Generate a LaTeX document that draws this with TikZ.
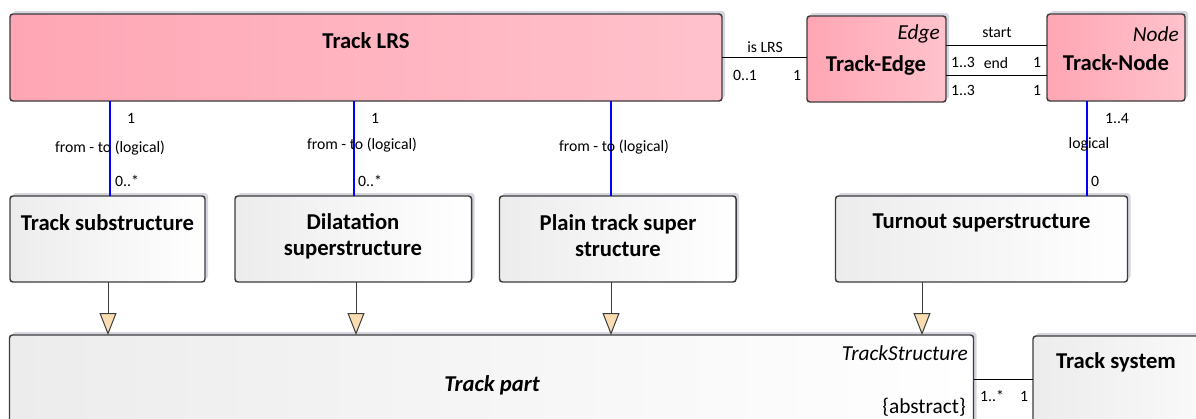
\documentclass[tikz,border=0pt]{standalone}
\usepackage{fontspec}
\setmainfont{Carlito}
\usetikzlibrary{arrows.meta,shadows,positioning}

\definecolor{lrsleft}{RGB}{255,166,180}
\definecolor{lrsright}{RGB}{255,194,204}
\definecolor{boxleft}{RGB}{236,236,236}
\definecolor{boxline}{RGB}{60,60,60}
\definecolor{boxshadow}{RGB}{214,214,224}
\definecolor{gentip}{RGB}{250,222,178}

\newcommand\namefont{\fontsize{17}{19.5}\selectfont\bfseries}
\newcommand\stereofont{\fontsize{16}{18}\selectfont\itshape}
\newcommand\rolefont{\fontsize{11.8}{14}\selectfont}

\begin{document}
\begin{tikzpicture}[x=0.75pt,y=0.75pt,yscale=-1,xscale=1,
  cls/.style={draw=boxline, line width=1.1pt, rounded corners=2.25pt,
    inner sep=0pt, outer sep=0pt, anchor=north west,
    drop shadow={shadow xshift=2.25pt, shadow yshift=2.25pt, fill=boxshadow, opacity=1}},
  pinkcls/.style={cls, left color=lrsleft, right color=lrsright},
  graycls/.style={cls, left color=boxleft, right color=white},
  clsname/.style={inner sep=0pt, font=\namefont, align=center},
  role/.style={inner sep=0.75pt, font=\rolefont},
  link/.style={draw=black, line width=0.75pt},
  assoc/.style={draw=blue, line width=1.6pt},
  gen/.style={draw=boxline, line width=0.75pt, -{Triangle[width=12.75pt,length=16.5pt,fill=gentip]}}]
  \useasboundingbox (0,0) rectangle (1196,418);

  %Classes
  \node[pinkcls, minimum width=534pt, minimum height=65.25pt] (lrs) at (10,14) {};
  \node[pinkcls, minimum width=104.25pt, minimum height=64.5pt] (edge) at (807,16) {};
  \node[pinkcls, minimum width=103.5pt, minimum height=65.25pt] (tnode) at (1047,14) {};
  \node[graycls, minimum width=146.25pt, minimum height=64.5pt] (sub) at (10,196) {};
  \node[graycls, minimum width=177.4pt, minimum height=64.5pt] (dil) at (235,196) {};
  \node[graycls, minimum width=177.4pt, minimum height=64.5pt] (plain) at (499.5,196) {};
  \node[graycls, minimum width=219pt, minimum height=64.5pt] (turn) at (835.5,196) {};
  \node[graycls, minimum width=723pt, minimum height=90pt] (part) at (9.5,335) {};
  \node[graycls, minimum width=180pt, minimum height=90pt] (sys) at (1033,336) {};

  %Guides for connectors
  \coordinate (a1) at (110,0);
  \coordinate (a2) at (354,0);
  \coordinate (a3) at (611,0);
  \coordinate (a4) at (1087,0);
  \coordinate (g1) at (108,0);
  \coordinate (g2) at (356,0);
  \coordinate (g3) at (611,0);
  \coordinate (g4) at (922,0);
  \coordinate (ps) at (0,379);

  %Associations
  \draw[link] (lrs.east) -- (lrs.east -| edge.west);
  \draw[link] ([yshift=12pt]edge.east) -- ([yshift=12pt]edge.east -| tnode.west);
  \draw[link] ([yshift=-10.5pt]edge.east) -- ([yshift=-10.5pt]edge.east -| tnode.west);
  \draw[link] (part.east |- ps) -- (sys.west |- ps);
  \draw[assoc] (a1 |- lrs.south) -- (a1 |- sub.north);
  \draw[assoc] (a2 |- lrs.south) -- (a2 |- dil.north);
  \draw[assoc] (a3 |- lrs.south) -- (a3 |- plain.north);
  \draw[assoc] (a4 |- tnode.south) -- (a4 |- turn.north);

  %Generalizations
  \draw[gen] (g1 |- sub.south) -- (g1 |- part.north);
  \draw[gen] (g2 |- dil.south) -- (g2 |- part.north);
  \draw[gen] (g3 |- plain.south) -- (g3 |- part.north);
  \draw[gen] (g4 |- turn.south) -- (g4 |- part.north);

  % Class names
  \node[clsname] (lrsname) at (366,41) {Track LRS};
  \node[clsname] (edgename) at (876,65) {Track-Edge};
  \node[clsname] (tnodename) at (1116,63) {Track-Node};
  \node[inner sep=0pt, font=\stereofont, anchor=east] (edgest) at (940,34) {Edge};
  \node[inner sep=0pt, font=\stereofont, anchor=east] (tnodest) at (1179,34) {Node};
  \node[clsname] (subname) at (107.5,223) {Track substructure};
  \node[clsname] (dilname) at (353,236) {Dilatation\\superstructure};
  \node[clsname] (plainname) at (618,236) {Plain track super\\structure};
  \node[clsname] (turnname) at (981.5,223) {Turnout superstructure};
  \node[inner sep=0pt, font=\namefont\itshape] (partname) at (492,385) {Track part};
  \node[inner sep=0pt, font=\stereofont, anchor=east] (partst) at (968,353) {TrackStructure};
  \node[inner sep=0pt, font=\fontsize{16}{18}\selectfont, anchor=east] (partabs) at (966,407) {\{abstract\}};
  \node[clsname] (sysname) at (1116,362) {Track system};

  % Role names and multiplicities
  \node[role] at (765,47) {is LRS};
  \node[role] at (745,75) {0..1};
  \node[role] at (797,75) {1};
  \node[role] at (997,33) {start};
  \node[role] at (963,62) {1..3};
  \node[role] at (996,63) {end};
  \node[role] at (1037,62) {1};
  \node[role] at (963,90) {1..3};
  \node[role] at (1037,90) {1};
  \node[role] at (131,118) {1};
  \node[role] at (110,148) {from - to (logical)};
  \node[role] at (127,181) {0..*};
  \node[role] at (375,118) {1};
  \node[role] at (362,145) {from - to (logical)};
  \node[role] at (370,181) {0..*};
  \node[role] at (614,147) {from - to (logical)};
  \node[role] at (1117,118) {1..4};
  \node[role] at (1089,144) {logical};
  \node[role] at (1095,181) {0};
  \node[role] at (992,396) {1..*};
  \node[role] at (1024,396) {1};
\end{tikzpicture}
\end{document}
